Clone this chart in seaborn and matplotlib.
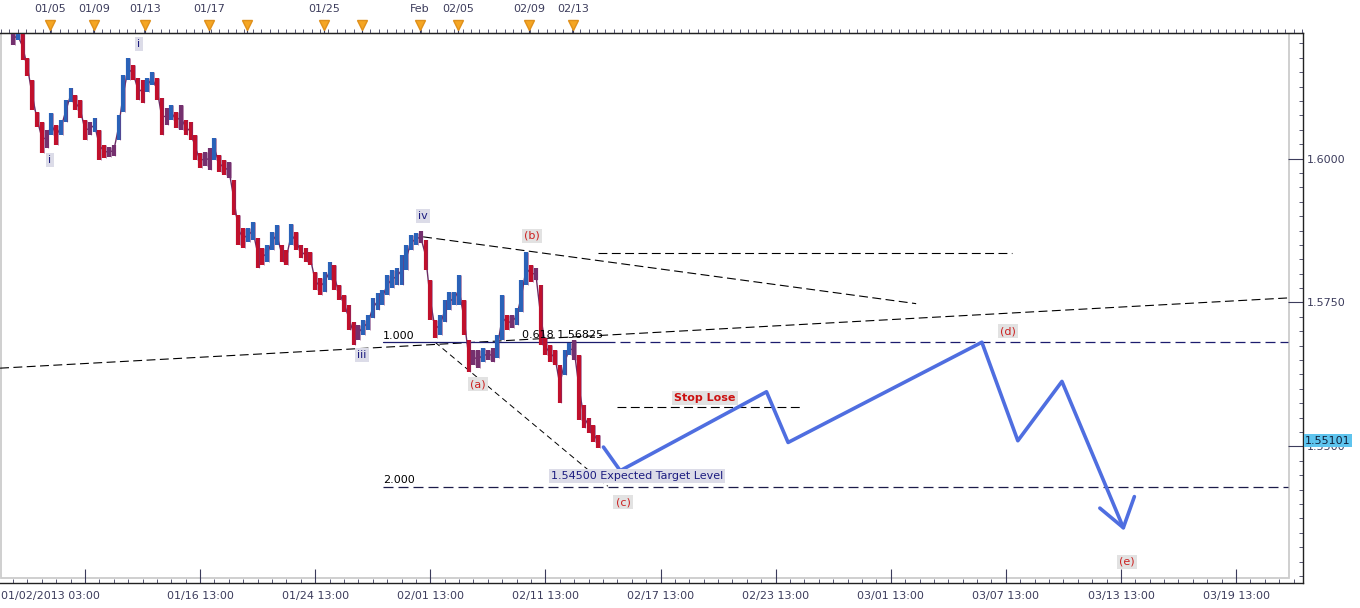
import numpy as np
import matplotlib
matplotlib.use("Agg")
import matplotlib.pyplot as plt
from matplotlib.ticker import MultipleLocator
from matplotlib.patches import Rectangle
import seaborn as sns

sns.set_style("white")
plt.rcParams['font.family'] = ['DejaVu Sans']

# price bars (bar index, high, low)
bar_start = -15
bar_high = [
    1.6220, 1.6220, 1.6218, 1.6174, 1.6136, 1.6081, 1.6063, 1.6049, 1.6079, 1.6058,
    1.6067, 1.6102, 1.6122, 1.6110, 1.6102, 1.6067, 1.6063, 1.6070, 1.6049, 1.6023,
    1.6020, 1.6023, 1.6076, 1.6145, 1.6174, 1.6162, 1.6140, 1.6136, 1.6140, 1.6150,
    1.6140, 1.6105, 1.6088, 1.6093, 1.6081, 1.6093, 1.6067, 1.6063, 1.6041, 1.6010,
    1.6011, 1.6018, 1.6036, 1.6006, 1.5997, 1.5994, 1.5963, 1.5902, 1.5879, 1.5879,
    1.5890, 1.5862, 1.5845, 1.5850, 1.5872, 1.5885, 1.5850, 1.5841, 1.5886, 1.5872,
    1.5850, 1.5845, 1.5838, 1.5803, 1.5793, 1.5803, 1.5820, 1.5815, 1.5780, 1.5763,
    1.5746, 1.5716, 1.5711, 1.5720, 1.5728, 1.5758, 1.5767, 1.5772, 1.5798, 1.5806,
    1.5810, 1.5832, 1.5850, 1.5867, 1.5871, 1.5874, 1.5859, 1.5789, 1.5720, 1.5728,
    1.5754, 1.5768, 1.5768, 1.5798, 1.5754, 1.5685, 1.5668, 1.5668, 1.5671, 1.5668,
    1.5671, 1.5694, 1.5763, 1.5728, 1.5728, 1.5740, 1.5789, 1.5838, 1.5815, 1.5810,
    1.5780, 1.5688, 1.5676, 1.5668, 1.5641, 1.5668, 1.5680, 1.5685, 1.5659, 1.5572,
    1.5550, 1.5537, 1.5520,
]
bar_low = [
    1.6197, 1.6206, 1.6171, 1.6143, 1.6084, 1.6055, 1.6010, 1.6018, 1.6041, 1.6023,
    1.6041, 1.6063, 1.6098, 1.6084, 1.6070, 1.6032, 1.6041, 1.6046, 1.5997, 1.6001,
    1.6003, 1.6004, 1.6032, 1.6081, 1.6136, 1.6136, 1.6102, 1.6096, 1.6115, 1.6128,
    1.6102, 1.6041, 1.6058, 1.6067, 1.6053, 1.6049, 1.6041, 1.6032, 1.5997, 1.5984,
    1.5987, 1.5980, 1.5997, 1.5977, 1.5971, 1.5966, 1.5902, 1.5850, 1.5845, 1.5855,
    1.5859, 1.5810, 1.5815, 1.5820, 1.5841, 1.5850, 1.5820, 1.5815, 1.5850, 1.5841,
    1.5827, 1.5820, 1.5815, 1.5772, 1.5763, 1.5768, 1.5789, 1.5772, 1.5754, 1.5734,
    1.5702, 1.5676, 1.5685, 1.5694, 1.5702, 1.5723, 1.5737, 1.5746, 1.5763, 1.5775,
    1.5780, 1.5780, 1.5806, 1.5841, 1.5850, 1.5853, 1.5806, 1.5720, 1.5688, 1.5694,
    1.5716, 1.5737, 1.5746, 1.5746, 1.5694, 1.5629, 1.5641, 1.5636, 1.5647, 1.5650,
    1.5647, 1.5654, 1.5685, 1.5702, 1.5706, 1.5711, 1.5734, 1.5780, 1.5786, 1.5789,
    1.5676, 1.5659, 1.5647, 1.5641, 1.5575, 1.5624, 1.5659, 1.5650, 1.5546, 1.5532,
    1.5523, 1.5508, 1.5497,
]
last_price = 1.55101

# projected wave path
proj_x = [108.1, 111.6, 142.1, 146.6, 187.0, 194.5, 203.7, 216.5]
proj_y = [1.5499, 1.5458, 1.5595, 1.5507, 1.5681, 1.5510, 1.5613, 1.5359]
arrow_x = [211.6, 216.5, 218.8]
arrow_y = [1.5393, 1.5359, 1.5413]

# trend lines / levels
rise_x = [-17.7, 251.0]
rise_y = [1.5636, 1.5758]
iv_x = [70.5, 173.3]
iv_y = [1.5864, 1.5748]
a_x = [73.0, 109.0]
a_y = [1.5681, 1.5431]
upper_x = [107.0, 193.3]
upper_level = 1.5836
fib_x = [62.1, 108.4, 250.8]
fib_1 = 1.5681
fib_2 = 1.5430
stop_x = [110.9, 149.7]
stop_level = 1.5568

bottom_ticks = [0, 24, 48, 72, 96, 120, 144, 168, 192, 216, 240]
bottom_labels = ["", "01/16 13:00", "01/24 13:00", "02/01 13:00", "02/11 13:00",
                 "02/17 13:00", "02/23 13:00", "03/01 13:00", "03/07 13:00",
                 "03/13 13:00", "03/19 13:00"]
first_label = "01/02/2013 03:00"
top_ticks = [-7.3, 1.9, 12.5, 25.85, 33.8, 49.9, 57.8, 69.85, 77.8, 92.6, 101.75]
top_labels = ["01/05", "01/09", "01/13", "01/17", "", "01/25", "", "Feb",
              "02/05", "02/09", "02/13"]
price_ticks = [1.6, 1.575, 1.55]
price_labels = ["1.6000", "1.5750", "1.5500"]

fig = plt.figure(figsize=(13.6, 6.08), dpi=100)
ax = fig.add_axes([0, 25 / 608, 1303 / 1360, 550 / 608])
ax.set_xlim(-17.72, 253.96)
ax.set_ylim(1.52630, 1.62179)

axis_col = '#3c3c5c'
ax.add_patch(Rectangle((0.001, 0.009), 1288 / 1303, 0.991, transform=ax.transAxes,
                       fill=False, ec='#cccccc', lw=1.3, zorder=0))

dash = (0, (8, 4))
ax.plot(rise_x, rise_y, color='black', lw=0.8, ls=dash, zorder=2)
ax.plot(iv_x, iv_y, color='black', lw=0.8, ls=dash, zorder=2)
ax.plot(a_x, a_y, color='black', lw=0.7, ls=(0, (6, 4)), zorder=2)
ax.plot(upper_x, [upper_level] * 2, color='black', lw=0.8, ls=dash, zorder=2)
ax.plot(stop_x, [stop_level] * 2, color='black', lw=0.8, ls=dash, zorder=2)
ax.plot(fib_x[:2], [fib_1] * 2, color='#1c1c6e', lw=0.9, zorder=2)
ax.plot(fib_x[1:], [fib_1] * 2, color='#1c1c6e', lw=0.9, ls=dash, zorder=2)
ax.plot([fib_x[0], fib_x[2]], [fib_2] * 2, color='#1c1c4a', lw=0.9, ls=dash, zorder=2)

# bars
bx = np.arange(bar_start, bar_start + len(bar_high))
hi = np.array(bar_high)
lo = np.array(bar_low)
mid = (hi + lo) / 2
chg = np.diff(mid, prepend=mid[0])
cols = np.where(chg > 0.0004, '#2a62b8', np.where(chg < -0.0004, '#c0102c', '#74306e'))
ax.plot(bx, mid, color='#6a2c66', lw=1.0, zorder=2.5)
ax.vlines(bx, lo, hi, colors=cols, lw=3.0, zorder=3)
ax.vlines(bx + 0.35, lo, hi, colors='#7a2f70', lw=0.6, alpha=0.6, zorder=3.1)

# projection
sns.lineplot(x=proj_x, y=proj_y, sort=False, estimator=None, color='#4f6ee0',
             lw=2.6, ax=ax, zorder=4)
sns.lineplot(x=arrow_x, y=arrow_y, sort=False, estimator=None, color='#4f6ee0',
             lw=2.6, ax=ax, zorder=4)


def tag(x, y, s, tc, fc, weight='normal'):
    ax.text(x, y, s, color=tc, fontsize=8, ha='center', va='center', fontweight=weight,
            bbox=dict(boxstyle='square,pad=0.2', fc=fc, ec='none'), zorder=6)


roman_fc = '#dcdce8'
wave_fc = '#e2e2e2'
tag(-7.30, 1.59974, "i", '#1c1c80', roman_fc)
tag(11.26, 1.61988, "i", '#1c1c80', roman_fc)
tag(57.76, 1.56589, "iii", '#1c1c80', roman_fc)
tag(70.47, 1.59002, "iv", '#1c1c80', roman_fc)
tag(81.94, 1.56085, "(a)", '#cc2020', wave_fc)
tag(93.20, 1.58655, "(b)", '#cc2020', wave_fc)
tag(112.18, 1.54036, "(c)", '#cc2020', wave_fc)
tag(192.45, 1.57005, "(d)", '#cc2020', wave_fc)
tag(217.26, 1.52995, "(e)", '#cc2020', wave_fc)
tag(129.27, 1.55842, "Stop Lose", '#cc1010', wave_fc, weight='bold')
tag(115.10, 1.54488, "1.54500 Expected Target Level", '#1c1c80', roman_fc)
ax.text(62.1, 1.56918, "1.000", fontsize=8, color='black', ha='left', va='center', zorder=5)
ax.text(62.1, 1.54418, "2.000", fontsize=8, color='black', ha='left', va='center', zorder=5)
ax.text(91.1, 1.56936, "0.618 1.56825", fontsize=8, color='black', ha='left',
        va='center', zorder=5)

# axes styling
ax.spines['left'].set_visible(False)
for s in ['right', 'bottom', 'top']:
    ax.spines[s].set_color('#222222')
    ax.spines[s].set_linewidth(1)

ax.yaxis.tick_right()
ax.set_yticks(price_ticks)
ax.set_yticklabels(price_labels)
ax.yaxis.set_minor_locator(MultipleLocator(0.0025))
ax.tick_params(axis='y', which='major', direction='in', length=11, pad=2.5,
               labelsize=8, colors=axis_col, right=True, left=False)
ax.tick_params(axis='y', which='minor', direction='in', length=3, color=axis_col,
               right=True, left=False)

ax.set_xticks(bottom_ticks)
ax.set_xticklabels(bottom_labels)
ax.xaxis.set_minor_locator(MultipleLocator(3))
ax.tick_params(axis='x', which='major', direction='in', length=10, pad=5.5,
               labelsize=8, colors=axis_col, bottom=True, top=False)
ax.tick_params(axis='x', which='minor', direction='in', length=3, color=axis_col,
               bottom=True, top=False)
ax.text(-17.6, -0.014, first_label, transform=ax.get_xaxis_transform(), ha='left',
        va='top', fontsize=8, color=axis_col)

ax.text(1.0015, last_price, "1.55101", transform=ax.get_yaxis_transform(), ha='left',
        va='center', fontsize=8, color='#10203a',
        bbox=dict(boxstyle='square,pad=0.12', fc='#5ec4ee', ec='none'), zorder=7)

top = ax.twiny()
top.set_xlim(ax.get_xlim())
top.set_xticks(top_ticks)
top.set_xticklabels(top_labels)
top.xaxis.set_minor_locator(MultipleLocator(1.75))
top.tick_params(axis='x', which='major', direction='out', length=9, pad=4.5,
                labelsize=8, colors=axis_col)
top.tick_params(axis='x', which='minor', direction='out', length=3, color=axis_col)
for s in ['left', 'right', 'bottom']:
    top.spines[s].set_visible(False)
top.spines['top'].set_color('#222222')
top.plot(top_ticks, [1.014] * len(top_ticks), 'v', transform=top.get_xaxis_transform(),
         color='#f5a623', mec='#e0901a', ms=7.5, clip_on=False, zorder=8)

fig.savefig("out.png", dpi=100)
